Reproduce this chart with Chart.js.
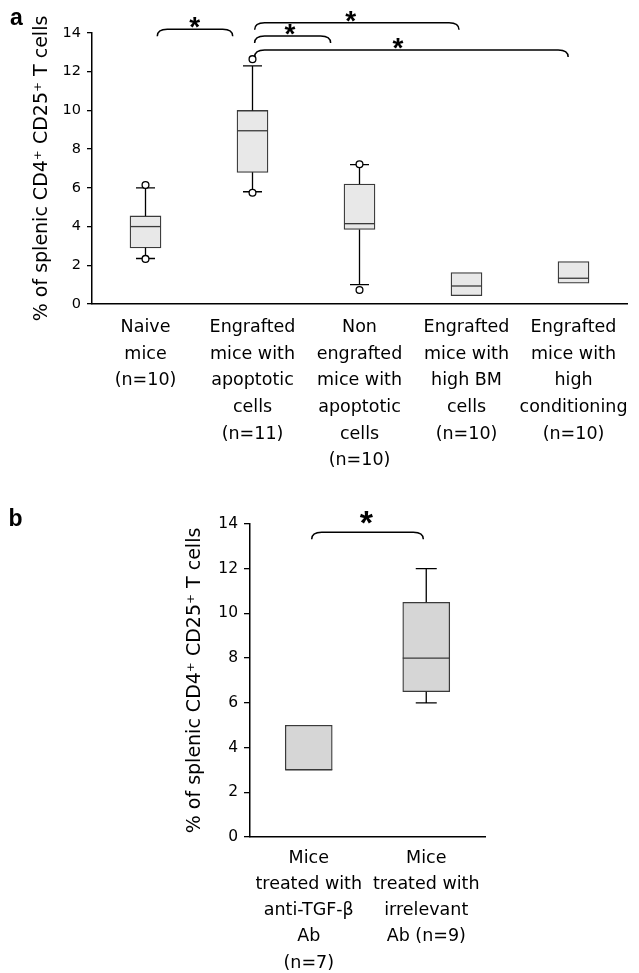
<!DOCTYPE html>
<html><head><meta charset="utf-8">
<script src="https://cdn.jsdelivr.net/npm/chart.js@4"></script>
<style>
html,body{margin:0;padding:0;background:#fff;}
#wrapA{position:absolute;left:0;top:0;width:639px;height:475px;}
#wrapB{position:absolute;left:0;top:478px;width:639px;height:495px;}
</style></head><body>
<div id="wrapA"><canvas id="chartA" width="639" height="475"></canvas></div>
<div id="wrapB"><canvas id="chartB" width="639" height="495"></canvas></div>
<script>
// ---------- Panel a data ----------
const categoriesA = [
  ["Naive","mice","(n=10)"],
  ["Engrafted","mice with","apoptotic","cells","(n=11)"],
  ["Non","engrafted","mice with","apoptotic","cells","(n=10)"],
  ["Engrafted","mice with","high BM","cells","(n=10)"],
  ["Engrafted","mice with","high","conditioning","(n=10)"]
];
const q1A = [2.9, 6.8, 3.85, 0.43, 1.07];
const medianA = [4.0, 8.95, 4.15, 0.93, 1.33];
const q3A = [4.55, 10.0, 6.2, 1.62, 2.19];
const whiskerLowA = [2.35, 5.8, 1.0, null, null];
const whiskerHighA = [6.0, 12.3, 7.2, null, null];
const outliersA = [[6.15, 2.33], [12.65, 5.75], [7.22, 0.72], [], []];
const bracketFromA = [0.11, 1.02, 1.02, 1.02];
const bracketToA = [0.815, 2.93, 1.73, 3.95];
const bracketLevelA = [14.19, 14.53, 13.84, 13.12];
const starAtA = [0.46, 1.918, 1.35, 2.36];

// ---------- Panel b data ----------
const categoriesB = [
  ["Mice","treated with","anti-TGF-\u03B2","Ab","(n=7)"],
  ["Mice","treated with","irrelevant","Ab (n=9)"]
];
const q1B = [3, 6.5];
const medianB = [3, 8];
const q3B = [5, 10.5];
const whiskerLowB = [null, 6];
const whiskerHighB = [null, 12];
const outliersB = [[], []];
const bracketFromB = [0.025];
const bracketToB = [0.975];
const bracketLevelB = [13.63];
const starAtB = [0.49];

const yTitle = "% of splenic CD4\u207A CD25\u207A T cells";

Chart.defaults.color = '#000';
Chart.defaults.font.family = '"DejaVu Sans", sans-serif';
Chart.defaults.animation = false;

function makeExtras(cfg) {
  return {
    id: 'extras' + cfg.name,
    afterDatasetsDraw(chart) {
      const ctx = chart.ctx;
      const x = chart.scales.x, y = chart.scales.y;
      ctx.save();
      const half = cfg.capW / 2, bh = cfg.boxW / 2;
      cfg.q1.forEach((q1, i) => {
        const cx = x.getPixelForValue(i);
        const yq1 = y.getPixelForValue(q1), yq3 = y.getPixelForValue(cfg.q3[i]);
        ctx.strokeStyle = '#000';
        ctx.lineWidth = cfg.whiskerW;
        ctx.beginPath();
        if (cfg.hi[i] != null) {
          const yh = y.getPixelForValue(cfg.hi[i]);
          ctx.moveTo(cx, yq3); ctx.lineTo(cx, yh);
          ctx.moveTo(cx - half, yh); ctx.lineTo(cx + half, yh);
        }
        if (cfg.lo[i] != null) {
          const yl = y.getPixelForValue(cfg.lo[i]);
          ctx.moveTo(cx, yq1); ctx.lineTo(cx, yl);
          ctx.moveTo(cx - half, yl); ctx.lineTo(cx + half, yl);
        }
        ctx.stroke();
        const ym = y.getPixelForValue(cfg.med[i]);
        ctx.strokeStyle = cfg.boxLine;
        ctx.lineWidth = cfg.boxLineW;
        ctx.beginPath();
        ctx.moveTo(cx - bh, ym); ctx.lineTo(cx + bh, ym);
        ctx.stroke();
        cfg.out[i].forEach(v => {
          const yo = y.getPixelForValue(v);
          ctx.beginPath();
          ctx.arc(cx, yo, 3.4, 0, Math.PI * 2);
          ctx.fillStyle = '#fff';
          ctx.fill();
          ctx.strokeStyle = '#000';
          ctx.lineWidth = 1.3;
          ctx.stroke();
        });
      });
      // brackets
      ctx.strokeStyle = '#000';
      ctx.lineWidth = 1.5;
      cfg.bFrom.forEach((f, i) => {
        const x1 = x.getPixelForValue(f), x2 = x.getPixelForValue(cfg.bTo[i]);
        const yy = y.getPixelForValue(cfg.bLevel[i]);
        const r = 10, hk = cfg.hook;
        ctx.beginPath();
        ctx.moveTo(x1, yy + hk);
        ctx.quadraticCurveTo(x1, yy, x1 + r, yy);
        ctx.lineTo(x2 - r, yy);
        ctx.quadraticCurveTo(x2, yy, x2, yy + hk);
        ctx.stroke();
        // star
        ctx.font = 'bold ' + cfg.starSize + 'px "Liberation Sans", Arial, sans-serif';
        ctx.fillStyle = '#000';
        ctx.textAlign = 'center';
        ctx.textBaseline = 'alphabetic';
        const m = ctx.measureText('*');
        const cy = yy - cfg.starGap;
        const by = cy - (m.actualBoundingBoxDescent - m.actualBoundingBoxAscent) / 2;
        ctx.fillText('*', x.getPixelForValue(cfg.starAt[i]), by);
      });
      // panel letter
      ctx.font = 'bold 23px "Liberation Sans", Arial, sans-serif';
      ctx.textAlign = 'center';
      ctx.textBaseline = 'alphabetic';
      ctx.fillStyle = '#000';
      ctx.fillText(cfg.letter, cfg.letterX, cfg.letterY);
      ctx.restore();
    }
  };
}

function makeChart(id, o) {
  return new Chart(document.getElementById(id), {
    type: 'bar',
    data: {
      labels: o.cats,
      datasets: [{
        data: o.q1.map((v, i) => [v, o.q3[i]]),
        backgroundColor: o.fill,
        borderColor: o.boxLine,
        borderWidth: o.boxLineW,
        borderSkipped: false,
        barThickness: o.boxW
      }]
    },
    options: {
      responsive: false,
      animation: false,
      layout: { padding: { top: o.padTop, right: o.padRight, left: 0, bottom: 0 } },
      plugins: { legend: { display: false }, tooltip: { enabled: false } },
      scales: {
        x: {
          offset: true,
          grid: { display: false, drawTicks: false },
          border: { display: true, color: '#000', width: 1.5 },
          ticks: { padding: o.xPad, maxRotation: 0, autoSkip: false,
                   font: { size: o.catSize, lineHeight: o.catLH } },
          afterFit: s => { s.height = o.xH; }
        },
        y: {
          min: 0, max: 14,
          ticks: { stepSize: 2, padding: 6, font: { size: o.tickSize } },
          grid: { display: true, drawOnChartArea: false, drawTicks: true, tickLength: o.tickLen, color: '#000', lineWidth: 1.3 },
          border: { display: true, color: '#000', width: 1.5 },
          title: { display: true, text: yTitle, font: { size: 19 }, padding: { top: o.titlePad, bottom: 0 } },
          afterFit: s => { s.width = o.yW; }
        }
      }
    },
    plugins: [makeExtras({
      name: id, q1: o.q1, q3: o.q3, med: o.med, lo: o.lo, hi: o.hi, out: o.out,
      bFrom: o.bFrom, bTo: o.bTo, bLevel: o.bLevel, starAt: o.starAt,
      capW: o.capW, boxW: o.boxW, boxLine: o.boxLine, boxLineW: o.boxLineW, whiskerW: 1.3,
      hook: 7, starGap: o.starGap, starSize: o.starSize,
      letter: o.letter, letterX: o.letterX, letterY: o.letterY
    })]
  });
}

makeChart('chartA', {
  cats: categoriesA, q1: q1A, q3: q3A, med: medianA, lo: whiskerLowA, hi: whiskerHighA, out: outliersA,
  bFrom: bracketFromA, bTo: bracketToA, bLevel: bracketLevelA, starAt: starAtA,
  fill: '#e8e8e8', boxLine: '#3a3a3a', boxLineW: 1.3, boxW: 31, capW: 19,
  padTop: 33, padRight: 12, xH: 171, yW: 92, xPad: 10, catSize: 17.5, catLH: 1.526,
  tickSize: 14.5, tickLen: 5, titlePad: 31, starGap: 6.5, starSize: 28,
  letter: 'a', letterX: 16.5, letterY: 25
});

makeChart('chartB', {
  cats: categoriesB, q1: q1B, q3: q3B, med: medianB, lo: whiskerLowB, hi: whiskerHighB, out: outliersB,
  bFrom: bracketFromB, bTo: bracketToB, bLevel: bracketLevelB, starAt: starAtB,
  fill: '#d6d6d6', boxLine: '#3a3a3a', boxLineW: 1.3, boxW: 47, capW: 21,
  padTop: 46, padRight: 154, xH: 136, yW: 250, xPad: 8, catSize: 17.5, catLH: 1.5,
  tickSize: 15.5, tickLen: 6, titlePad: 184, starGap: 14.5, starSize: 34,
  letter: 'b', letterX: 15.5, letterY: 48
});
</script>
</body></html>
